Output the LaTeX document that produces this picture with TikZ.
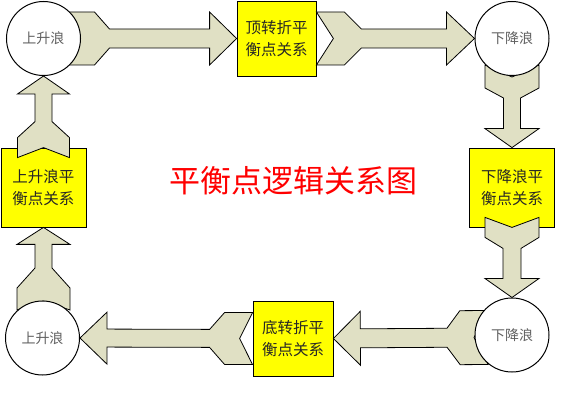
\documentclass[tikz,border=0pt]{standalone}
\usepackage{fontspec}
\newfontfamily\cjk{Noto Sans CJK SC}
\usetikzlibrary{calc}
\definecolor{arrfill}{RGB}{224,224,196}
\definecolor{circtext}{RGB}{96,96,96}
\definecolor{boxyellow}{RGB}{255,255,0}
\pgfdeclarelayer{front}
\pgfsetlayers{main,front}
% #1 tail, #2 tip, #3 notch depth, #4 tail length, #5 tail+slope length,
% #6 head length, #7 half width (head/tail), #8 half width (shaft)
\newcommand\fatarr[8]{%
  \draw[bigarrow]
    ($(#1)!#7!90:(#2)$) --
    ($(#1)!#4!(#2)!#7!90:(#2)$) --
    ($(#1)!#5!(#2)!#8!90:(#2)$) --
    ($(#2)!#6!(#1)!#8!-90:(#1)$) --
    ($(#2)!#6!(#1)!#7!-90:(#1)$) --
    (#2) --
    ($(#2)!#6!(#1)!#7!90:(#1)$) --
    ($(#2)!#6!(#1)!#8!90:(#1)$) --
    ($(#1)!#5!(#2)!#8!-90:(#2)$) --
    ($(#1)!#4!(#2)!#7!-90:(#2)$) --
    ($(#1)!#7!-90:(#2)$) --
    ($(#1)!#3!(#2)$) -- cycle;}
\begin{document}
\begin{tikzpicture}[x=1pt,y=-1pt,
  circ/.style={circle,draw=black,line width=1pt,fill=white,minimum size=74pt,inner sep=0pt,
    font=\cjk\fontsize{14}{16}\selectfont,text=circtext},
  ybox/.style={rectangle,draw=black,line width=0.8pt,fill=boxyellow,inner sep=0pt,align=center,
    font=\cjk\fontsize{15.5}{22}\selectfont,text=black!85},
  bigarrow/.style={draw=black,line width=0.8pt,fill=arrfill,line join=miter},
  titletext/.style={font=\cjk\fontsize{31}{36}\selectfont,text=red,inner sep=0pt}]
\useasboundingbox (0,0) rectangle (574,401);
% boxes
\node[ybox,minimum width=79pt,minimum height=75pt] (b1) at (276.5,38.5) {顶转折平\\衡点关系};
\node[ybox,minimum width=85pt,minimum height=79pt] (b2) at (512,187.5) {下降浪平\\衡点关系};
\node[ybox,minimum width=80pt,minimum height=75pt] (b3) at (293,338.5) {底转折平\\衡点关系};
\node[ybox,minimum width=85pt,minimum height=79pt] (b4) at (43.5,187.5) {上升浪平\\衡点关系};
% circles (on top)
\begin{pgfonlayer}{front}
\node[circ] (c1) at (43.5,38.5) {上升浪};
\node[circ] (c2) at (512,38.5) {下降浪};
\node[circ] (c3) at (512,335) {下降浪};
\node[circ] (c4) at (42.5,338) {上升浪};
\end{pgfonlayer}
% title
\node[titletext] (t) at (293.5,181) {平衡点逻辑关系图};
% arrow end points
\coordinate (a1) at ($(c1.center)+(20,0)$);
\coordinate (a3) at ($(c2.center)+(0,26.5)$);
\coordinate (a4) at ($(b2.south)+(0,-10)$);
\coordinate (a5) at ($(c3.center)+(-24,2.5)$);
\coordinate (a7) at ($(c4.center)+(1,-28)$);
\coordinate (a8) at ($(b4.north)+(0,10)$);
% arrows
\fatarr{a1}{b1.west}{14pt}{31pt}{46pt}{27pt}{26.5pt}{9.5pt}
\fatarr{b1.east}{c2.west}{17pt}{28pt}{45pt}{28pt}{26.5pt}{9.5pt}
\fatarr{a3}{b2.north}{12pt}{23pt}{33pt}{19pt}{27pt}{8.5pt}
\fatarr{a4}{c3.north}{10pt}{20pt}{31pt}{19pt}{27pt}{9pt}
\fatarr{a5}{b3.east}{14pt}{28pt}{41pt}{27pt}{27pt}{9.5pt}
\fatarr{b3.west}{c4.east}{13pt}{28pt}{43pt}{27pt}{26pt}{9pt}
\fatarr{a7}{b4.south}{9pt}{22pt}{42pt}{17pt}{26.5pt}{8.5pt}
\fatarr{a8}{c1.south}{10pt}{20pt}{36pt}{18pt}{26pt}{8.5pt}
\end{tikzpicture}
\end{document}
